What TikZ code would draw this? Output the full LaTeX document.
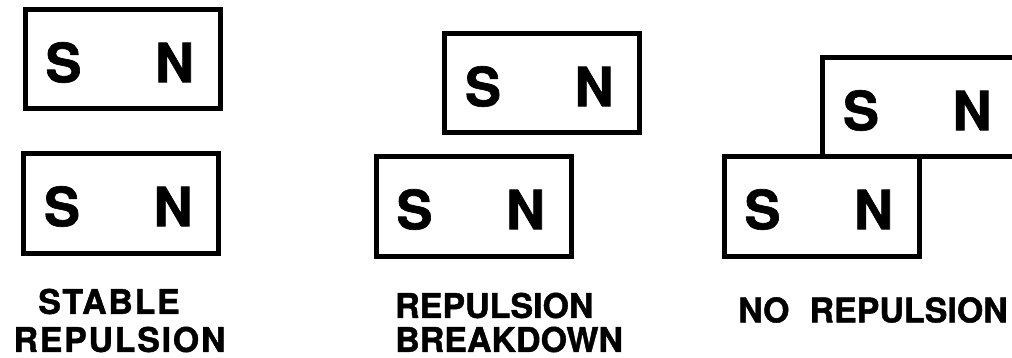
\documentclass[tikz,border=0pt]{standalone}
\usepackage{fontspec}
\setmainfont{TeX Gyre Heros}
\newfontfamily\heavy{TeX Gyre Heros}[BoldFeatures={FakeBold=1.2}]
\newfontfamily\heavywide{TeX Gyre Heros}[BoldFeatures={FakeBold=1.2,LetterSpace=5}]
\tikzset{
  magnet/.style={draw=black, line width=5pt, minimum width=195pt, minimum height=99pt, inner sep=0pt},
  pole/.style={font=\heavy\fontsize{54}{60}\selectfont\bfseries, inner sep=0pt},
  lab/.style={font=\heavy\fontsize{34}{40}\selectfont\bfseries, inner sep=0pt},
  labwide/.style={font=\heavywide\fontsize{34}{40}\selectfont\bfseries, inner sep=0pt}
}
\begin{document}
\begin{tikzpicture}[x=1pt,y=-1pt]
\useasboundingbox (0,0) rectangle (1012,358);
\clip (0,0) rectangle (1012,358);
% stable repulsion
\node[magnet] (a1) at (122.5,59.5) {};
\node[magnet] (a2) at (121,203.5) {};
% repulsion breakdown
\node[magnet] (b1) at (542,83.5) {};
\node[magnet] (b2) at (473.5,206.5) {};
% no repulsion
\node[magnet] (c1) at (920,107.5) {};
\node[magnet] (c2) at (821.5,206.5) {};
\foreach \m in {a1,a2,b1,b2,c1,c2}{
  \node[pole] (\m s) at ([xshift=-59pt,yshift=-3pt]\m.center) {S};
  \node[pole] (\m n) at ([xshift=52pt,yshift=-3pt]\m.center) {N};
}
\node[labwide] (la1) at (109,301.5) {STABLE};
\node[labwide] (la2) at (119.5,339.5) {REPULSION};
\node[lab,anchor=west] (lb1) at (395,305.5) {REPULSION};
\node[lab,anchor=west] (lb2) at (395,339.5) {BREAKDOWN};
\node[lab] (lc) at (873,310) {NO\hspace{20pt}REPULSION};
\end{tikzpicture}
\end{document}
